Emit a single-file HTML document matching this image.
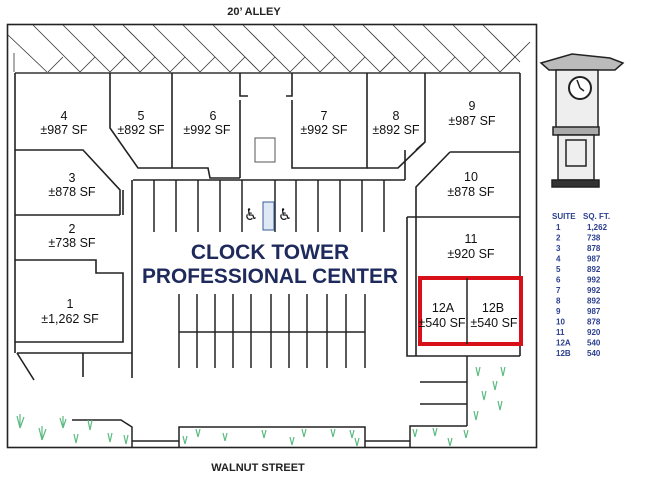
<!DOCTYPE html>
<html><head><meta charset="utf-8"><style>
html,body{margin:0;padding:0;background:#fff;width:650px;height:479px;overflow:hidden}
svg{display:block}
.u{font-family:"Liberation Sans",sans-serif;font-size:12.5px;fill:#111;text-anchor:middle}
.t{font-family:"Liberation Sans",sans-serif;font-weight:bold;fill:#1e2a5c;text-anchor:middle}
.s{font-family:"Liberation Sans",sans-serif;font-weight:bold;font-size:8px;fill:#2b3f8f}
</style></head><body>
<svg width="650" height="479" viewBox="0 0 650 479" xmlns="http://www.w3.org/2000/svg">
<text x="254" y="15" font-family="Liberation Sans" font-weight="bold" font-size="11" text-anchor="middle" fill="#222">20’ ALLEY</text>
<text x="258" y="471" font-family="Liberation Sans" font-weight="bold" font-size="11" text-anchor="middle" fill="#222">WALNUT STREET</text>
<rect x="7.5" y="24.5" width="529" height="423" fill="none" stroke="#222" stroke-width="1.6"/>
<g stroke="#333" stroke-width="0.8" fill="none">
<line x1="15" y1="73" x2="520" y2="73" stroke-width="1.4"/>
<path d="M33 25 L80 72 M63 25 L110 72 M93 25 L140 72 M123 25 L170 72 M153 25 L200 72 M183 25 L230 72 M213 25 L260 72 M243 25 L290 72 M273 25 L320 72 M303 25 L350 72 M333 25 L380 72 M363 25 L410 72 M393 25 L440 72 M423 25 L470 72 M453 25 L500 72 M483 25 L520 62"/>
<path d="M48 72 L63 57 M80 72 L95 57 M110 72 L125 57 M140 72 L155 57 M170 72 L185 57 M200 72 L215 57 M230 72 L245 57 M260 72 L275 57 M290 72 L305 57 M320 72 L335 57 M350 72 L365 57 M380 72 L395 57 M410 72 L425 57 M440 72 L455 57 M470 72 L485 57 M500 72 L530 42"/>
<path d="M8 35 L47 72 M14 53 L14 72"/>
</g>
<g stroke="#222" stroke-width="1.6" fill="none">
<path d="M15 73 L15 150 M15 150 L83 150 L120 190 L120 215 M15 150 L15 353"/>
<path d="M110 73 L110 128 L138 168 L172 168 L172 73 M172 168 L208 168 L210 178 L240 178"/>
<path d="M240 73 L240 96 L248 96 M240 100 L240 178"/>
<path d="M292 73 L292 96 L286 96 M292 100 L292 168 L367 168 L367 73"/>
<path d="M367 168 L398 168 L425 142 L425 73 M425 142 L416 150"/>
<path d="M520 73 L520 356 M450 152 L520 152 M450 152 L416 187 L416 356 M407 217 L520 217 M407 217 L407 356 L520 356"/>
<path d="M15 215 L120 215 M15 260 L96 260 L96 273 L123 273 L123 342 L15 342"/>
<path d="M123 190 L123 215 M132 180 L132 378"/>
<path d="M17 353 L132 353 M17 353 L34 380 M83 353 L83 377"/>
<path d="M133 180 L405 180 M405 180 L405 150"/>
</g>
<path d="M255 138 L275 138 L275 162 L255 162 Z" fill="none" stroke="#555" stroke-width="1"/>
<g stroke="#222" stroke-width="1.5">
<line x1="154" y1="180" x2="154" y2="232"/><line x1="176" y1="180" x2="176" y2="232"/><line x1="198" y1="180" x2="198" y2="232"/><line x1="220" y1="180" x2="220" y2="232"/><line x1="242" y1="180" x2="242" y2="232"/><line x1="275" y1="180" x2="275" y2="232"/><line x1="296" y1="180" x2="296" y2="232"/><line x1="318" y1="180" x2="318" y2="232"/><line x1="340" y1="180" x2="340" y2="232"/><line x1="362" y1="180" x2="362" y2="232"/><line x1="384" y1="180" x2="384" y2="232"/>
</g>
<rect x="263" y="202" width="11" height="28" fill="#dfe8f5" stroke="#3a5a9a" stroke-width="1"/>
<text x="251" y="220" font-size="16" text-anchor="middle" fill="#111" font-family="DejaVu Sans">♿</text>
<text x="285" y="220" font-size="16" text-anchor="middle" fill="#111" font-family="DejaVu Sans">♿</text>
<g stroke="#222" stroke-width="1.5" fill="none">
<line x1="179" y1="332" x2="365" y2="332"/>
<line x1="179" y1="294" x2="179" y2="368"/><line x1="197" y1="294" x2="197" y2="368"/><line x1="215" y1="294" x2="215" y2="368"/><line x1="233" y1="294" x2="233" y2="368"/><line x1="251" y1="294" x2="251" y2="368"/><line x1="271" y1="294" x2="271" y2="368"/><line x1="289" y1="294" x2="289" y2="368"/><line x1="307" y1="294" x2="307" y2="368"/><line x1="327" y1="294" x2="327" y2="368"/><line x1="346" y1="294" x2="346" y2="368"/><line x1="365" y1="294" x2="365" y2="368"/>
<line x1="420" y1="382" x2="467" y2="382"/><line x1="420" y1="404" x2="467" y2="404"/>
<line x1="467" y1="356" x2="467" y2="426"/>
<path d="M72 420 L121 420 L132 427 L132 447"/>
<path d="M132 441 L179 441 M179 447 L179 427 L365 427 L365 447 M365 441 L410 441 M410 447 L410 426 L467 426"/>
</g>
<rect x="420" y="278" width="101" height="66" fill="none" stroke="#d8101a" stroke-width="4"/>
<line x1="467" y1="278" x2="467" y2="344" stroke="#222" stroke-width="1.5"/>
<text class="t" x="270" y="259" font-size="21">CLOCK TOWER</text>
<text class="t" x="270" y="283" font-size="21" textLength="256" lengthAdjust="spacingAndGlyphs">PROFESSIONAL CENTER</text>
<text class="u" x="64" y="120">4</text><text class="u" x="64" y="134">±987 SF</text>
<text class="u" x="141" y="120">5</text><text class="u" x="141" y="134">±892 SF</text>
<text class="u" x="213" y="120">6</text><text class="u" x="207" y="134">±992 SF</text>
<text class="u" x="324" y="120">7</text><text class="u" x="324" y="134">±992 SF</text>
<text class="u" x="396" y="120">8</text><text class="u" x="396" y="134">±892 SF</text>
<text class="u" x="472" y="110">9</text><text class="u" x="472" y="125">±987 SF</text>
<text class="u" x="471" y="181">10</text><text class="u" x="471" y="196">±878 SF</text>
<text class="u" x="471" y="243">11</text><text class="u" x="471" y="258">±920 SF</text>
<text class="u" x="72" y="182">3</text><text class="u" x="72" y="196">±878 SF</text>
<text class="u" x="72" y="233">2</text><text class="u" x="72" y="247">±738 SF</text>
<text class="u" x="70" y="308">1</text><text class="u" x="70" y="323">±1,262 SF</text>
<text class="u" x="443" y="312">12A</text><text class="u" x="442" y="327">±540 SF</text>
<text class="u" x="493" y="312">12B</text><text class="u" x="494" y="327">±540 SF</text>
<g stroke="#222" fill="none" stroke-width="1.5">
<path d="M541 63 L572 54 L610 58 L623 63 L615 70 L549 70 Z" fill="#bbb"/>
<rect x="556" y="70" width="42" height="58" fill="#eee"/>
<circle cx="580" cy="88" r="11" fill="#fff" stroke-width="2"/>
<path d="M580 88 L577 80 M580 88 L584 91"/>
<rect x="553" y="127" width="46" height="8" fill="#aaa"/>
<rect x="558" y="135" width="36" height="45" fill="#eee"/>
<rect x="566" y="140" width="20" height="26"/>
<rect x="552" y="180" width="47" height="7" fill="#333"/>
</g>
<text class="s" x="552" y="219">SUITE</text><text class="s" x="583" y="219">SQ. FT.</text>
<text class="s" x="556" y="230">1</text><text class="s" x="587" y="230">1,262</text>
<text class="s" x="556" y="240.5">2</text><text class="s" x="587" y="240.5">738</text>
<text class="s" x="556" y="251">3</text><text class="s" x="587" y="251">878</text>
<text class="s" x="556" y="261.5">4</text><text class="s" x="587" y="261.5">987</text>
<text class="s" x="556" y="272">5</text><text class="s" x="587" y="272">892</text>
<text class="s" x="556" y="282.5">6</text><text class="s" x="587" y="282.5">992</text>
<text class="s" x="556" y="293">7</text><text class="s" x="587" y="293">992</text>
<text class="s" x="556" y="303.5">8</text><text class="s" x="587" y="303.5">892</text>
<text class="s" x="556" y="314">9</text><text class="s" x="587" y="314">987</text>
<text class="s" x="556" y="324.5">10</text><text class="s" x="587" y="324.5">878</text>
<text class="s" x="556" y="335">11</text><text class="s" x="587" y="335">920</text>
<text class="s" x="556" y="345.5">12A</text><text class="s" x="587" y="345.5">540</text>
<text class="s" x="556" y="356">12B</text><text class="s" x="587" y="356">540</text>
<g stroke="#5cba82" stroke-width="1.2" fill="none">
<path d="M20 428 l-3 -12 M20 428 l0 -14 M20 428 l4 -11 M42 440 l-3 -12 M42 440 l0 -14 M42 440 l4 -11 M63 428 l-3 -10 M63 428 l0 -12 M63 428 l3 -9 M76 443 l-2 -9 M76 443 l2 -9 M90 430 l-2 -10 M90 430 l2 -10 M110 442 l-2 -9 M110 442 l2 -9 M126 444 l-2 -9 M126 444 l2 -9"/>
<path d="M185 444 l-2 -8 M185 444 l2 -8 M198 437 l-2 -8 M198 437 l2 -8 M225 441 l-2 -8 M225 441 l2 -8 M264 438 l-2 -8 M264 438 l2 -8 M292 445 l-2 -8 M292 445 l2 -8 M304 437 l-2 -8 M304 437 l2 -8 M333 437 l-2 -8 M333 437 l2 -8 M352 438 l-2 -8 M352 438 l2 -8 M357 446 l-2 -8 M357 446 l2 -8"/>
<path d="M415 437 l-2 -8 M415 437 l2 -8 M435 436 l-2 -8 M435 436 l2 -8 M450 446 l-2 -8 M450 446 l2 -8 M466 438 l-2 -8 M466 438 l2 -8 M476 420 l-2 -9 M476 420 l2 -9 M484 400 l-2 -9 M484 400 l2 -9 M478 376 l-2 -9 M478 376 l2 -9 M503 376 l-2 -9 M503 376 l2 -9 M500 410 l-2 -9 M500 410 l2 -9 M495 390 l-2 -9 M495 390 l2 -9"/>
</g>
</svg>
</body></html>
